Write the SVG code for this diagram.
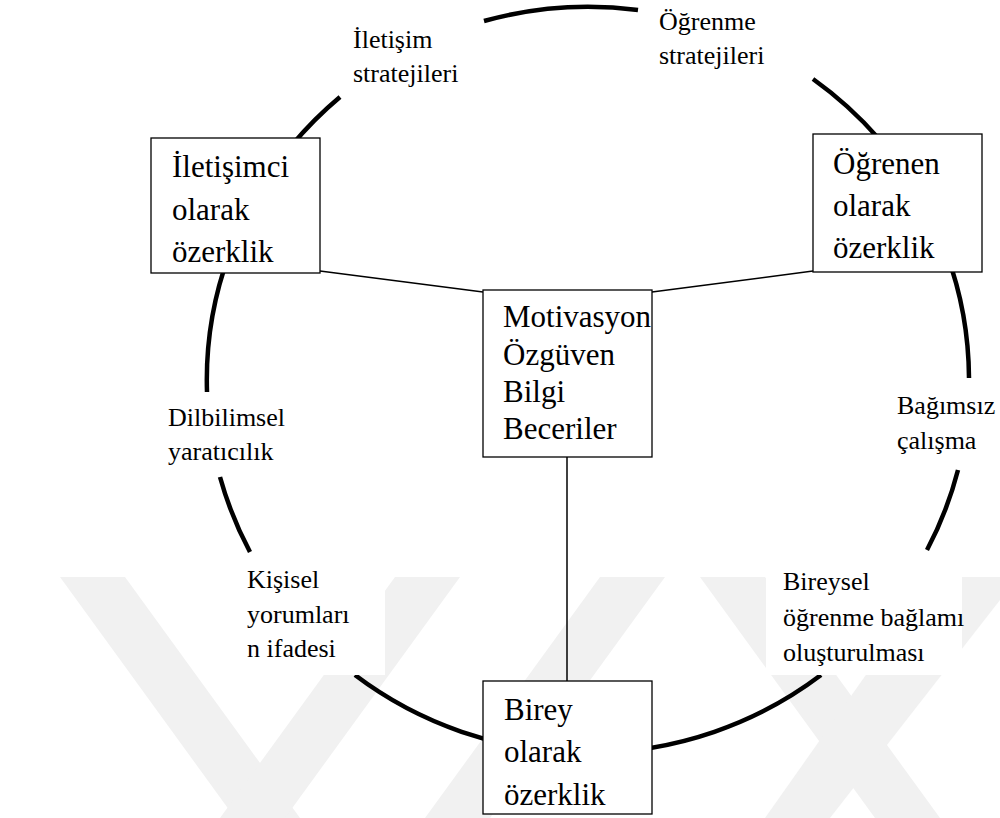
<svg xmlns="http://www.w3.org/2000/svg" width="1000" height="818" viewBox="0 0 1000 818">
<rect width="1000" height="818" fill="#fff"/>
<g id="watermark" fill="#f1f1f1">
<polygon points="60,577 125,577 300,818 235,818"/>
<polygon points="395,577 460,577 285,818 220,818"/>
<polygon points="600,577 665,577 490,818 425,818"/>
<polygon points="700,577 765,577 940,818 875,818"/>
<polygon points="935,577 1000,577 1000,600 830,818 765,818"/>
</g>
<g id="ring" fill="none" stroke="#000" stroke-width="4.5">
<path d="M484,21 A381,373 0 0 1 638,10"/>
<path d="M813,79 A381,373 0 0 1 969,378"/>
<path d="M958,470 A381,373 0 0 1 927,550"/>
<path d="M821,675 A381,373 0 0 1 355,675"/>
<path d="M250,552 A381,373 0 0 1 220,477"/>
<path d="M207,392 A381,373 0 0 1 340,97"/>
</g>
<g id="connectors" stroke="#000" stroke-width="1.5" fill="none">
<line x1="320" y1="271" x2="483" y2="292"/>
<line x1="813" y1="271" x2="652" y2="292"/>
<line x1="567" y1="457" x2="567" y2="681"/>
</g>
<g id="label-iletisim">
<text x="353" y="48" style="font-family:'Liberation Serif',serif;font-size:26px">İletişim</text>
<text x="353" y="82" style="font-family:'Liberation Serif',serif;font-size:26px">stratejileri</text>
</g>
<g id="label-ogrenme">
<text x="659" y="30" style="font-family:'Liberation Serif',serif;font-size:26px">Öğrenme</text>
<text x="659" y="64" style="font-family:'Liberation Serif',serif;font-size:26px">stratejileri</text>
</g>
<g id="label-dilbilimsel">
<text x="168" y="426" style="font-family:'Liberation Serif',serif;font-size:26px">Dilbilimsel</text>
<text x="168" y="460" style="font-family:'Liberation Serif',serif;font-size:26px">yaratıcılık</text>
</g>
<g id="label-bagimsiz">
<text x="897" y="414" style="font-family:'Liberation Serif',serif;font-size:26px">Bağımsız</text>
<text x="897" y="449" style="font-family:'Liberation Serif',serif;font-size:26px">çalışma</text>
</g>
<g id="label-kisisel">
<rect x="228" y="556" width="157" height="119" fill="#fff"/>
<text x="247" y="588" style="font-family:'Liberation Serif',serif;font-size:26px">Kişisel</text>
<text x="247" y="623" style="font-family:'Liberation Serif',serif;font-size:26px">yorumları</text>
<text x="247" y="657" style="font-family:'Liberation Serif',serif;font-size:26px">n ifadesi</text>
</g>
<g id="label-bireysel">
<rect x="766" y="560" width="196" height="115" fill="#fff"/>
<text x="783" y="590" style="font-family:'Liberation Serif',serif;font-size:26px">Bireysel</text>
<text x="783" y="626" style="font-family:'Liberation Serif',serif;font-size:26px">öğrenme bağlamı</text>
<text x="783" y="661" style="font-family:'Liberation Serif',serif;font-size:26px">oluşturulması</text>
</g>
<g id="node-iletisimci">
<rect x="151" y="138" width="169" height="135" fill="#fff" stroke="#000" stroke-width="1.3"/>
<text x="172" y="177" style="font-family:'Liberation Serif',serif;font-size:31px">İletişimci</text>
<text x="172" y="220" style="font-family:'Liberation Serif',serif;font-size:31px">olarak</text>
<text x="172" y="262" style="font-family:'Liberation Serif',serif;font-size:31px">özerklik</text>
</g>
<g id="node-ogrenen">
<rect x="813" y="134" width="169" height="138" fill="#fff" stroke="#000" stroke-width="1.3"/>
<text x="833" y="174" style="font-family:'Liberation Serif',serif;font-size:31px">Öğrenen</text>
<text x="833" y="216" style="font-family:'Liberation Serif',serif;font-size:31px">olarak</text>
<text x="833" y="258" style="font-family:'Liberation Serif',serif;font-size:31px">özerklik</text>
</g>
<g id="node-merkez">
<rect x="483" y="290" width="169" height="167" fill="#fff" stroke="#000" stroke-width="1.3"/>
<text x="503" y="327" style="font-family:'Liberation Serif',serif;font-size:31px">Motivasyon</text>
<text x="503" y="365" style="font-family:'Liberation Serif',serif;font-size:31px">Özgüven</text>
<text x="503" y="402" style="font-family:'Liberation Serif',serif;font-size:31px">Bilgi</text>
<text x="503" y="439" style="font-family:'Liberation Serif',serif;font-size:31px">Beceriler</text>
</g>
<g id="node-birey">
<rect x="483" y="681" width="169" height="133" fill="#fff" stroke="#000" stroke-width="1.3"/>
<text x="504" y="720" style="font-family:'Liberation Serif',serif;font-size:31px">Birey</text>
<text x="504" y="762" style="font-family:'Liberation Serif',serif;font-size:31px">olarak</text>
<text x="504" y="805" style="font-family:'Liberation Serif',serif;font-size:31px">özerklik</text>
</g>
</svg>
